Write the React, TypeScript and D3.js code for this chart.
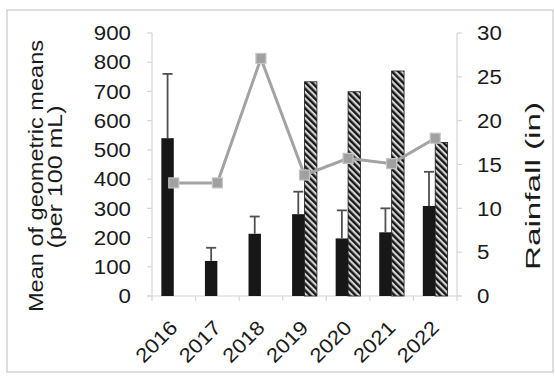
import React from "react";
import * as d3 from "d3";

// Sampling years
const years = ["2016", "2017", "2018", "2019", "2020", "2021", "2022"];
// Mean of geometric means (per 100 mL), solid bars
const meanGeo = [540, 120, 213, 280, 197, 218, 308];
// Upper end of the error bars for the solid bars
const meanGeoUpper = [760, 165, 272, 357, 293, 300, 425];
// Hatched bars (per 100 mL), present from 2019 on
const hatched: (number | null)[] = [null, null, null, 733, 699, 770, 525];
// Rainfall (in), right axis
const rainfall = [12.9, 12.9, 27.1, 13.8, 15.7, 15.1, 18.0];

const leftTicks = [0, 100, 200, 300, 400, 500, 600, 700, 800, 900];
const rightTicks = [0, 5, 10, 15, 20, 25, 30];

const W = 555;
const H = 377;
const plot = { left: 152, right: 457, top: 33, bottom: 296 };
const FONT = "'Liberation Sans', Arial, Helvetica, sans-serif";
const axisColor = "#d6d6d6";
const charW = 12.4; // advance used for the slightly wide numerals

export default function App() {
  const x = d3.scaleBand<string>().domain(years).range([plot.left, plot.right]).padding(0);
  const yL = d3.scaleLinear().domain([0, 900]).range([plot.bottom, plot.top]);
  const yR = d3.scaleLinear().domain([0, 30]).range([plot.bottom, plot.top]);
  const barW = x.bandwidth() * 0.285;
  const cx = (y: string) => (x(y) as number) + x.bandwidth() / 2;

  const line = d3
    .line<number>()
    .x((_, i) => cx(years[i]))
    .y((d) => yR(d));

  return (
    <svg
      width={W}
      height={H}
      style={{ position: "absolute", left: 0, top: 0, background: "#fff" }}
      fontFamily={FONT}
    >
      <defs>
        <pattern
          id="diag"
          patternUnits="userSpaceOnUse"
          width={4.6}
          height={4.6}
          patternTransform="rotate(-45)"
        >
          <rect width={4.6} height={4.6} fill="#d4d4d4" />
          <rect width={2.4} height={4.6} fill="#161616" />
        </pattern>
      </defs>

      <rect x={7} y={10} width={546} height={362} fill="#fff" stroke="#d3d3d3" strokeWidth={1.5} />

      {/* axis lines */}
      <line x1={plot.left} x2={plot.left} y1={plot.top} y2={plot.bottom} stroke={axisColor} strokeWidth={1.2} />
      <line x1={plot.right} x2={plot.right} y1={plot.top} y2={plot.bottom} stroke={axisColor} strokeWidth={1.2} />
      <line x1={plot.left - 5} x2={plot.right + 5} y1={plot.bottom} y2={plot.bottom} stroke={axisColor} strokeWidth={1.2} />

      {leftTicks.map((t) => (
        <g key={"l" + t}>
          <line x1={plot.left - 5} x2={plot.left} y1={yL(t)} y2={yL(t)} stroke={axisColor} strokeWidth={1.2} />
          <text
            x={131}
            y={yL(t)}
            dy="0.36em"
            textAnchor="end"
            fontSize={20}
            fill="#1a1a1a"
            textLength={String(t).length * charW}
            lengthAdjust="spacingAndGlyphs"
          >
            {t}
          </text>
        </g>
      ))}
      {rightTicks.map((t) => (
        <g key={"r" + t}>
          <line x1={plot.right} x2={plot.right + 5} y1={yR(t)} y2={yR(t)} stroke={axisColor} strokeWidth={1.2} />
          <text
            x={477}
            y={yR(t)}
            dy="0.36em"
            textAnchor="start"
            fontSize={20}
            fill="#1a1a1a"
            textLength={String(t).length * charW}
            lengthAdjust="spacingAndGlyphs"
          >
            {t}
          </text>
        </g>
      ))}
      {years.map((y) => (
        <line
          key={"xt" + y}
          x1={x(y) as number}
          x2={x(y) as number}
          y1={plot.bottom}
          y2={plot.bottom + 5}
          stroke={axisColor}
          strokeWidth={1.2}
        />
      ))}
      <line x1={plot.right} x2={plot.right} y1={plot.bottom} y2={plot.bottom + 5} stroke={axisColor} strokeWidth={1.2} />

      {/* solid bars */}
      {years.map((y, i) => (
        <rect
          key={"b" + y}
          x={cx(y) - barW}
          y={yL(meanGeo[i])}
          width={barW}
          height={plot.bottom - yL(meanGeo[i])}
          fill="#171717"
        />
      ))}
      {/* hatched bars */}
      {years.map((y, i) =>
        hatched[i] == null ? null : (
          <rect
            key={"h" + y}
            x={cx(y)}
            y={yL(hatched[i] as number)}
            width={barW}
            height={plot.bottom - yL(hatched[i] as number)}
            fill="url(#diag)"
            stroke="#1c1c1c"
            strokeWidth={0.8}
          />
        )
      )}
      {/* error bars */}
      {years.map((y, i) => {
        const ex = cx(y) - barW / 2;
        return (
          <g key={"e" + y} stroke="#505050" strokeWidth={1.8}>
            <line x1={ex} x2={ex} y1={yL(meanGeo[i])} y2={yL(meanGeoUpper[i])} />
            <line x1={ex - 5} x2={ex + 5} y1={yL(meanGeoUpper[i])} y2={yL(meanGeoUpper[i])} />
          </g>
        );
      })}

      {/* rainfall line */}
      <path d={line(rainfall) as string} fill="none" stroke="#a3a3a3" strokeWidth={3} />
      {rainfall.map((r, i) => (
        <rect
          key={"m" + i}
          x={cx(years[i]) - 5}
          y={yR(r) - 5}
          width={10}
          height={10}
          fill="#a0a0a0"
          stroke="#c4c4c4"
          strokeWidth={1.2}
        />
      ))}

      {/* x labels */}
      {years.map((y) => (
        <text
          key={"xl" + y}
          transform={`translate(${cx(y) + 5},${plot.bottom + 33}) rotate(-45)`}
          textAnchor="end"
          fontSize={20}
          fill="#1a1a1a"
          textLength={y.length * charW}
          lengthAdjust="spacingAndGlyphs"
        >
          {y}
        </text>
      ))}

      {/* axis titles */}
      <g fontSize={20} fill="#1a1a1a" textAnchor="middle">
        <text transform="translate(43,176) rotate(-90)" textLength={272} lengthAdjust="spacingAndGlyphs">
          Mean of geometric means
        </text>
        <text transform="translate(62,177) rotate(-90)" textLength={143} lengthAdjust="spacingAndGlyphs">
          (per 100 mL)
        </text>
        <text transform="translate(540,186) rotate(-90)" textLength={168} lengthAdjust="spacingAndGlyphs">
          Rainfall (in)
        </text>
      </g>
    </svg>
  );
}
